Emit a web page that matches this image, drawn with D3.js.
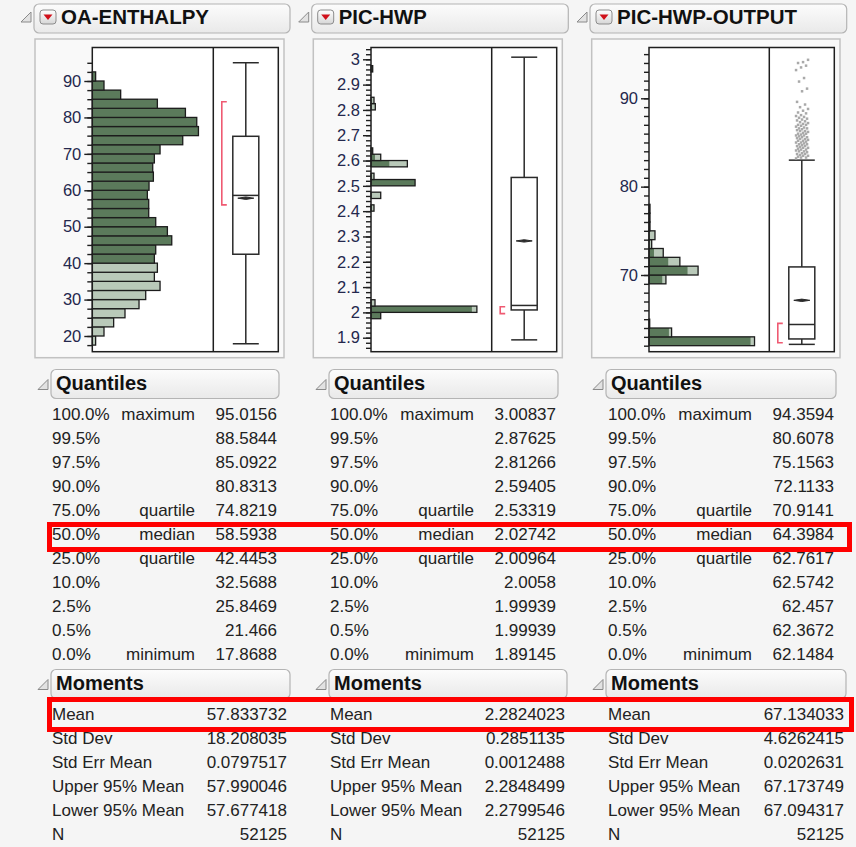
<!DOCTYPE html>
<html>
<head>
<meta charset="utf-8">
<script src="https://cdn.jsdelivr.net/npm/d3@7/dist/d3.min.js"></script>
<style>
body{margin:0;background:#f5f5f5;}
svg{display:block;font-family:"Liberation Sans",Arial,sans-serif;}
</style>
</head>
<body>
<svg id="chart" width="856" height="847"></svg>
<script>
// ---- data ----
const titles=["OA-ENTHALPY","PIC-HWP","PIC-HWP-OUTPUT"];

// OA-ENTHALPY histogram (bin lower edge, width 2.5)
const oa_bins=[17.5,20,22.5,25,27.5,30,32.5,35,37.5,40,42.5,45,47.5,50,52.5,55,57.5,60,62.5,65,67.5,70,72.5,75,77.5,80,82.5,85,87.5,90];
const oa_counts=[103,362,661,1012,1446,1653,2097,1921,2014,1921,1963,2459,2324,1963,1746,1746,1704,1756,1890,1870,1921,2097,2799,3285,3233,2882,2014,878,362,103];
const oa_selected=[0,0,0,0,0,0,0,0,0,1921,1963,2459,2324,1963,1746,1746,1704,1756,1890,1870,1921,2097,2799,3285,3233,2882,2014,878,362,103];

// PIC-HWP histogram (bin lower edge, width 0.025)
const hwp_bins=[1.975,2.0,2.025,2.4,2.45,2.5,2.525,2.575,2.6,2.625,2.8,2.825,2.95];
const hwp_counts=[2144,23360,884,663,2144,9724,663,8022,2144,376,950,663,376];
const hwp_selected=[2144,22255,0,0,0,9724,0,4044,884,376,0,0,376];

// PIC-HWP-OUTPUT histogram (bin lower edge, width 1)
const out_bins=[62,63,64,69,70,71,72,73,74,75,76,77];
const out_counts=[21836,4676,144,3502,10156,6386,2946,556,1236,206,206,206];
const out_selected=[21012,4120,144,2740,7972,3976,1030,0,0,206,206,206];

// box plot stats per column
const whisker_lo=[17.8688,1.89145,62.1484];
const box_q1=[42.4453,2.00964,62.7617];
const box_median=[58.5938,2.02742,64.3984];
const box_q3=[74.8219,2.53319,70.9141];
const whisker_hi=[95.0156,3.00837,83.0];
const box_mean=[57.833732,2.2824023,67.134033];
const shortest_half=[[56.0,84.3],[1.995,2.022],[62.33,64.53]];

// outliers of PIC-HWP-OUTPUT
const out_outliers=[83.2,83.3,83.3,83.4,83.5,83.5,83.6,83.7,83.7,83.8,83.9,84.0,84.0,84.1,84.2,84.2,84.3,84.4,84.4,84.5,
  84.6,84.6,84.7,84.8,84.8,84.9,85.0,85.0,85.1,85.2,85.2,85.3,85.4,85.4,85.5,85.6,85.6,85.7,85.8,85.8,
  85.9,86.0,86.0,86.1,86.2,86.3,86.3,86.4,86.5,86.6,86.6,86.7,86.8,86.9,87.0,87.0,87.1,87.2,87.3,87.4,
  87.5,87.6,87.7,87.8,87.9,88.0,88.1,88.3,88.4,88.6,88.8,89.0,
  89.3,89.6,90.8,91.1,91.9,92.3,93.2,93.5,93.7,94.0,94.1,94.36];

// axis ticks
const oa_major=[20,30,40,50,60,70,80,90];
const hwp_major=[1.9,2,2.1,2.2,2.3,2.4,2.5,2.6,2.7,2.8,2.9,3];
const out_major=[70,80,90];

// quantiles table
const quantile_levels=["100.0%","99.5%","97.5%","90.0%","75.0%","50.0%","25.0%","10.0%","2.5%","0.5%","0.0%"];
const quantile_names=["maximum","","","","quartile","median","quartile","","","","minimum"];
const oa_quantiles=["95.0156","88.5844","85.0922","80.8313","74.8219","58.5938","42.4453","32.5688","25.8469","21.466","17.8688"];
const hwp_quantiles=["3.00837","2.87625","2.81266","2.59405","2.53319","2.02742","2.00964","2.0058","1.99939","1.99939","1.89145"];
const out_quantiles=["94.3594","80.6078","75.1563","72.1133","70.9141","64.3984","62.7617","62.5742","62.457","62.3672","62.1484"];

// moments table
const moment_names=["Mean","Std Dev","Std Err Mean","Upper 95% Mean","Lower 95% Mean","N"];
const oa_moments=["57.833732","18.208035","0.0797517","57.990046","57.677418","52125"];
const hwp_moments=["2.2824023","0.2851135","0.0012488","2.2848499","2.2799546","52125"];
const out_moments=["67.134033","4.6262415","0.0202631","67.173749","67.094317","52125"];

// ---- layout ----
const panels=[
  {head_x:34,head_w:256,outer_x:35,outer_w:249,plot_l:92.3,plot_m:213.3,plot_r:278.3,
   y_dom:[20,90],y_rng:[336,81],major:oa_major,minor:[17.5,97.5,2.5],
   bins:oa_bins,bin_w:2.5,counts:oa_counts,selected:oa_selected,
   q_x:51,q_w:228,m_w:239,pct_x:52,name_r:195,val_r:277,mom_r:287,
   quantiles:oa_quantiles,moments:oa_moments,title_w:148},
  {head_x:311.7,head_w:256.6,outer_x:313.3,outer_w:249,plot_l:371,plot_m:491.7,plot_r:556.7,
   y_dom:[1.9,3],y_rng:[337.7,59.3],major:hwp_major,minor:[1.86,3.041,0.02],
   bins:hwp_bins,bin_w:0.025,counts:hwp_counts,selected:hwp_selected,
   q_x:329,q_w:229,m_w:238,pct_x:330,name_r:474,val_r:556,mom_r:565,
   quantiles:hwp_quantiles,moments:hwp_moments,title_w:88},
  {head_x:590,head_w:256.7,outer_x:591.7,outer_w:248.3,plot_l:649,plot_m:769.3,plot_r:834.3,
   y_dom:[70,90],y_rng:[275,98.3],major:out_major,minor:[62,95.5,1],
   bins:out_bins,bin_w:1,counts:out_counts,selected:out_selected,
   q_x:606,q_w:230,m_w:240,pct_x:608,name_r:752,val_r:834,mom_r:844,
   quantiles:out_quantiles,moments:out_moments,title_w:180,outliers:out_outliers}
];

const plot_top=47.5, plot_bottom=351.7;
const dark_fill="#5b7a5b", light_fill="#b9c9b9", ink="#222";
const label_col="#24284d";

const svg=d3.select("#chart");

// header gradient
const defs=svg.append("defs");
const grad=defs.append("linearGradient").attr("id","head_grad").attr("x1",0).attr("y1",0).attr("x2",0).attr("y2",1);
grad.append("stop").attr("offset","0%").attr("stop-color","#fcfcfc");
grad.append("stop").attr("offset","100%").attr("stop-color","#e9e9e9");
const btn_grad=defs.append("linearGradient").attr("id","btn_grad").attr("x1",0).attr("y1",0).attr("x2",0).attr("y2",1);
btn_grad.append("stop").attr("offset","0%").attr("stop-color","#ffffff");
btn_grad.append("stop").attr("offset","100%").attr("stop-color","#d6d6d6");

svg.append("rect").attr("width",856).attr("height",847).attr("fill","#f5f5f5");

function disclosure_icon(x_right,y_bottom){
    // gray "open" triangle
    svg.append("path")
        .attr("d",`M${x_right-10},${y_bottom}L${x_right},${y_bottom}L${x_right},${y_bottom-10}Z`)
        .attr("fill","#e2e2e2")
        .attr("stroke","#8a8a8a")
        .attr("stroke-width",1);
}

function section_header(x,y,w,h,label,font_size,baseline){
    svg.append("rect")
        .attr("x",x).attr("y",y).attr("width",w).attr("height",h)
        .attr("rx",5)
        .attr("fill","url(#head_grad)")
        .attr("stroke","#b4b4b4")
        .attr("stroke-width",1.2);
    disclosure_icon(x-3,y+h-9);
    return svg.append("text")
        .attr("x",x+5).attr("y",baseline)
        .attr("font-size",font_size)
        .attr("font-weight","bold")
        .attr("fill","#111")
        .text(label);
}

function draw_panel(p,i){
    // title header
    svg.append("rect")
        .attr("x",p.head_x).attr("y",4).attr("width",p.head_w).attr("height",29)
        .attr("rx",5)
        .attr("fill","url(#head_grad)")
        .attr("stroke","#b4b4b4")
        .attr("stroke-width",1.2);
    disclosure_icon(p.head_x-3,22);

    // red menu button
    svg.append("rect")
        .attr("x",p.head_x+6).attr("y",10).attr("width",16).attr("height",14)
        .attr("rx",3)
        .attr("fill","url(#btn_grad)")
        .attr("stroke","#8c8c8c");
    svg.append("path")
        .attr("d",`M${p.head_x+9.5},${14.5}L${p.head_x+18.5},${14.5}L${p.head_x+14},${20}Z`)
        .attr("fill","#d0101a");

    svg.append("text")
        .attr("x",p.head_x+27).attr("y",23.5)
        .attr("font-size",20.5)
        .attr("font-weight","bold")
        .attr("fill","#111")
        .attr("textLength",p.title_w)
        .attr("lengthAdjust","spacingAndGlyphs")
        .text(titles[i]);

    // outer frame
    svg.append("rect")
        .attr("x",p.outer_x).attr("y",39).attr("width",p.outer_w).attr("height",318.7)
        .attr("fill","#f9f9f9")
        .attr("stroke","#c2c2c2")
        .attr("stroke-width",1.5);

    svg.append("rect")
        .attr("x",p.plot_l).attr("y",plot_top)
        .attr("width",p.plot_r-p.plot_l).attr("height",plot_bottom-plot_top)
        .attr("fill","white");

    const y=d3.scaleLinear().domain(p.y_dom).range(p.y_rng);
    const x=d3.scaleLinear()
        .domain([0,d3.max(p.counts)*1.14])
        .range([p.plot_l,p.plot_m]);

    // histogram bars
    const g=svg.append("g");
    p.bins.forEach((lo,k)=>{
        const y_top=y(lo+p.bin_w), y_bot=y(lo);
        g.append("rect")
            .attr("x",p.plot_l).attr("y",y_top)
            .attr("width",x(p.counts[k])-p.plot_l).attr("height",y_bot-y_top)
            .attr("fill",light_fill);
        if(p.selected[k]>0){
            g.append("rect")
                .attr("x",p.plot_l).attr("y",y_top)
                .attr("width",x(p.selected[k])-p.plot_l).attr("height",y_bot-y_top)
                .attr("fill",dark_fill);
        }
        g.append("rect")
            .attr("x",p.plot_l).attr("y",y_top)
            .attr("width",x(p.counts[k])-p.plot_l).attr("height",y_bot-y_top)
            .attr("fill","none")
            .attr("stroke","#1c1c1c")
            .attr("stroke-width",1.3);
    });

    // box plot
    const cx=(p.plot_m+p.plot_r)/2;
    const hw=13;
    const box=svg.append("g").attr("stroke","#2a2a2a").attr("stroke-width",1.5).attr("fill","none");
    box.append("line").attr("x1",cx).attr("x2",cx).attr("y1",y(whisker_hi[i])).attr("y2",y(box_q3[i]));
    box.append("line").attr("x1",cx).attr("x2",cx).attr("y1",y(box_q1[i])).attr("y2",y(whisker_lo[i]));
    box.append("line").attr("x1",cx-hw).attr("x2",cx+hw).attr("y1",y(whisker_hi[i])).attr("y2",y(whisker_hi[i]));
    box.append("line").attr("x1",cx-hw).attr("x2",cx+hw).attr("y1",y(whisker_lo[i])).attr("y2",y(whisker_lo[i]));
    box.append("rect")
        .attr("x",cx-hw).attr("y",y(box_q3[i]))
        .attr("width",hw*2).attr("height",y(box_q1[i])-y(box_q3[i]))
        .attr("fill","white");
    box.append("line").attr("x1",cx-hw).attr("x2",cx+hw).attr("y1",y(box_median[i])).attr("y2",y(box_median[i]));
    // mean diamond (very flat)
    const my=y(box_mean[i]);
    box.append("path")
        .attr("d",`M${cx-8},${my}L${cx},${my-1.2}L${cx+8},${my}L${cx},${my+1.2}Z`)
        .attr("fill","#2a2a2a")
        .attr("stroke-width",1);

    // shortest half bracket
    const sh_top=y(shortest_half[i][1]), sh_bot=y(shortest_half[i][0]);
    svg.append("path")
        .attr("d",`M${cx-19},${sh_top}H${cx-24}V${sh_bot}H${cx-19}`)
        .attr("fill","none")
        .attr("stroke","#ef5a72")
        .attr("stroke-width",1.6);

    // outliers
    if(p.outliers){
        svg.append("g").selectAll("rect")
            .data(p.outliers)
            .join("rect")
            .attr("x",(d,k)=>cx-1+((k*5)%13)-6)
            .attr("y",d=>y(d)-1.2)
            .attr("width",2.5).attr("height",2.5)
            .attr("fill","#a9a9a9");
    }

    // frame
    svg.append("rect")
        .attr("x",p.plot_l).attr("y",plot_top)
        .attr("width",p.plot_r-p.plot_l).attr("height",plot_bottom-plot_top)
        .attr("fill","none")
        .attr("stroke","#1e1e1e")
        .attr("stroke-width",1.5);
    svg.append("line")
        .attr("x1",p.plot_m).attr("x2",p.plot_m)
        .attr("y1",plot_top).attr("y2",plot_bottom)
        .attr("stroke","#1e1e1e")
        .attr("stroke-width",1.5);

    // y axis
    const minor_vals=d3.range(p.minor[0],p.minor[1],p.minor[2]);
    const minor_axis=svg.append("g")
        .attr("transform",`translate(${p.plot_l},0)`)
        .call(d3.axisLeft(y).tickValues(minor_vals).tickSize(5).tickFormat(""));
    const major_axis=svg.append("g")
        .attr("transform",`translate(${p.plot_l},0)`)
        .call(d3.axisLeft(y).tickValues(p.major).tickSize(8).tickPadding(3).tickFormat(d3.format("")));
    for(const ax of [minor_axis,major_axis]){
        ax.select(".domain").remove();
        ax.selectAll(".tick line").attr("stroke","#1e1e1e").attr("stroke-width",1.4);
    }
    major_axis.selectAll(".tick text")
        .attr("font-size",16.5)
        .attr("font-family","\"Liberation Sans\",Arial,sans-serif")
        .attr("fill",label_col);

    // quantiles
    section_header(p.q_x,369.5,p.q_w,29,"Quantiles",20,390);
    quantile_levels.forEach((lv,k)=>{
        const by=420+k*24;
        svg.append("text").attr("x",p.pct_x).attr("y",by).attr("font-size",17).attr("fill",ink).text(lv);
        if(quantile_names[k]!==""){
            svg.append("text").attr("x",p.name_r).attr("y",by).attr("font-size",17).attr("fill",ink)
                .attr("text-anchor","end").text(quantile_names[k]);
        }
        svg.append("text").attr("x",p.val_r).attr("y",by).attr("font-size",17).attr("fill",ink)
            .attr("text-anchor","end").text(p.quantiles[k]);
    });

    // moments
    section_header(p.q_x,669.5,p.m_w,29,"Moments",20,690);
    moment_names.forEach((nm,k)=>{
        const by=720+k*24;
        svg.append("text").attr("x",p.pct_x).attr("y",by).attr("font-size",17).attr("fill",ink).text(nm);
        svg.append("text").attr("x",p.mom_r).attr("y",by).attr("font-size",17).attr("fill",ink)
            .attr("text-anchor","end").text(p.moments[k]);
    });
}

panels.forEach(draw_panel);

// red highlight boxes
svg.append("rect")
    .attr("x",49.5).attr("y",524.5).attr("width",800).attr("height",25)
    .attr("fill","none").attr("stroke","#ff0000").attr("stroke-width",5);
svg.append("rect")
    .attr("x",49.5).attr("y",699.5).attr("width",802).attr("height",30)
    .attr("fill","none").attr("stroke","#ff0000").attr("stroke-width",5);
</script>
</body>
</html>
